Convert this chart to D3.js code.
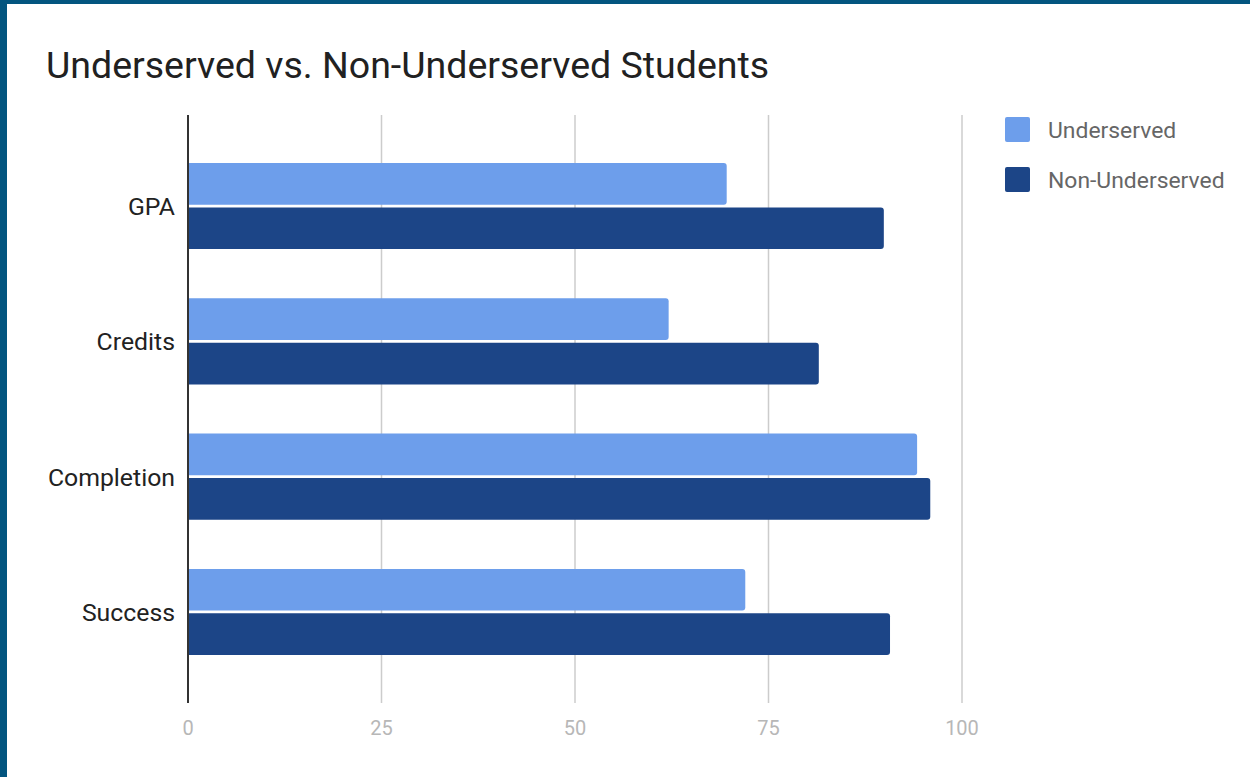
<!DOCTYPE html>
<html lang="en">
<head>
    <meta charset="UTF-8">
    <title>Underserved vs. Non-Underserved Students</title>
    <script src="https://d3js.org/d3.v7.min.js"></script>
    <style>
        body, html {
            margin: 0;
            padding: 0;
            background: #fff;
        }
        svg {
            display: block;
            font-family: Roboto, Arial, sans-serif;
        }
    </style>
</head>
<body>
    <script>
        const categories = ["GPA", "Credits", "Completion", "Success"];
        const seriesNames = ["Underserved", "Non-Underserved"];
        const underserved = [69.6, 62.1, 94.2, 72.0];
        const nonUnderserved = [89.9, 81.5, 95.9, 90.7];
        const xTicks = [0, 25, 50, 75, 100];

        const width = 1250;
        const height = 777;
        const colors = ["#6d9eeb", "#1c4587"];

        const svg = d3.select("body").append("svg")
            .attr("width", width)
            .attr("height", height);

        // frame
        svg.append("rect").attr("x", 0).attr("y", 0).attr("width", width).attr("height", 4).attr("fill", "#03557f");
        svg.append("rect").attr("x", 0).attr("y", 0).attr("width", 7).attr("height", height).attr("fill", "#03557f");

        svg.append("text")
            .attr("x", 46)
            .attr("y", 78)
            .attr("font-size", 37.5)
            .attr("fill", "#212121")
            .text("Underserved vs. Non-Underserved Students");

        const x = d3.scaleLinear().domain([0, 100]).range([188, 962]);
        const y = d3.scaleBand().domain(categories).range([115, 703])
            .paddingInner(0.364).paddingOuter(0.355);
        const ySub = d3.scaleBand().domain(seriesNames).range([0, y.bandwidth()]).paddingInner(0.06);

        // grid
        svg.append("g").selectAll("line")
            .data(xTicks.filter(d => d > 0))
            .join("line")
            .attr("x1", d => x(d)).attr("x2", d => x(d))
            .attr("y1", 115).attr("y2", 703)
            .attr("stroke", "#cccccc")
            .attr("stroke-width", 1.5);

        svg.append("g").selectAll("text")
            .data(xTicks)
            .join("text")
            .attr("x", d => x(d))
            .attr("y", 735)
            .attr("text-anchor", "middle")
            .attr("font-size", 20)
            .attr("fill", "#b7b7b7")
            .text(d => d);

        const rows = categories.map((c, i) => ({
            cat: c,
            vals: [underserved[i], nonUnderserved[i]]
        }));

        const groups = svg.append("g").selectAll("g")
            .data(rows)
            .join("g")
            .attr("transform", d => `translate(0,${y(d.cat)})`);

        // bars with rounded right end
        groups.selectAll("path")
            .data(d => d.vals.map((v, j) => ({ v, s: seriesNames[j], j })))
            .join("path")
            .attr("fill", d => colors[d.j])
            .attr("d", d => {
                const x0 = x(0), x1 = x(d.v), y0 = ySub(d.s), h = ySub.bandwidth(), r = 3;
                return `M${x0},${y0}H${x1 - r}Q${x1},${y0} ${x1},${y0 + r}V${y0 + h - r}Q${x1},${y0 + h} ${x1 - r},${y0 + h}H${x0}Z`;
            });

        svg.append("g").selectAll("text")
            .data(categories)
            .join("text")
            .attr("x", 175)
            .attr("y", d => y(d) + y.bandwidth() / 2 + 9)
            .attr("text-anchor", "end")
            .attr("font-size", 24.8)
            .attr("fill", "#222")
            .text(d => d);

        // zero axis
        svg.append("line")
            .attr("x1", x(0)).attr("x2", x(0))
            .attr("y1", 115).attr("y2", 703)
            .attr("stroke", "#333")
            .attr("stroke-width", 2);

        const legend = svg.append("g").attr("transform", "translate(1005,117)");
        const li = legend.selectAll("g")
            .data(seriesNames)
            .join("g")
            .attr("transform", (d, i) => `translate(0,${i * 50})`);
        li.append("rect")
            .attr("width", 25).attr("height", 25).attr("rx", 2)
            .attr("fill", (d, i) => colors[i]);
        li.append("text")
            .attr("x", 43).attr("y", 20.5)
            .attr("font-size", 22.9)
            .attr("fill", "#666")
            .text(d => d);
    </script>
</body>
</html>
